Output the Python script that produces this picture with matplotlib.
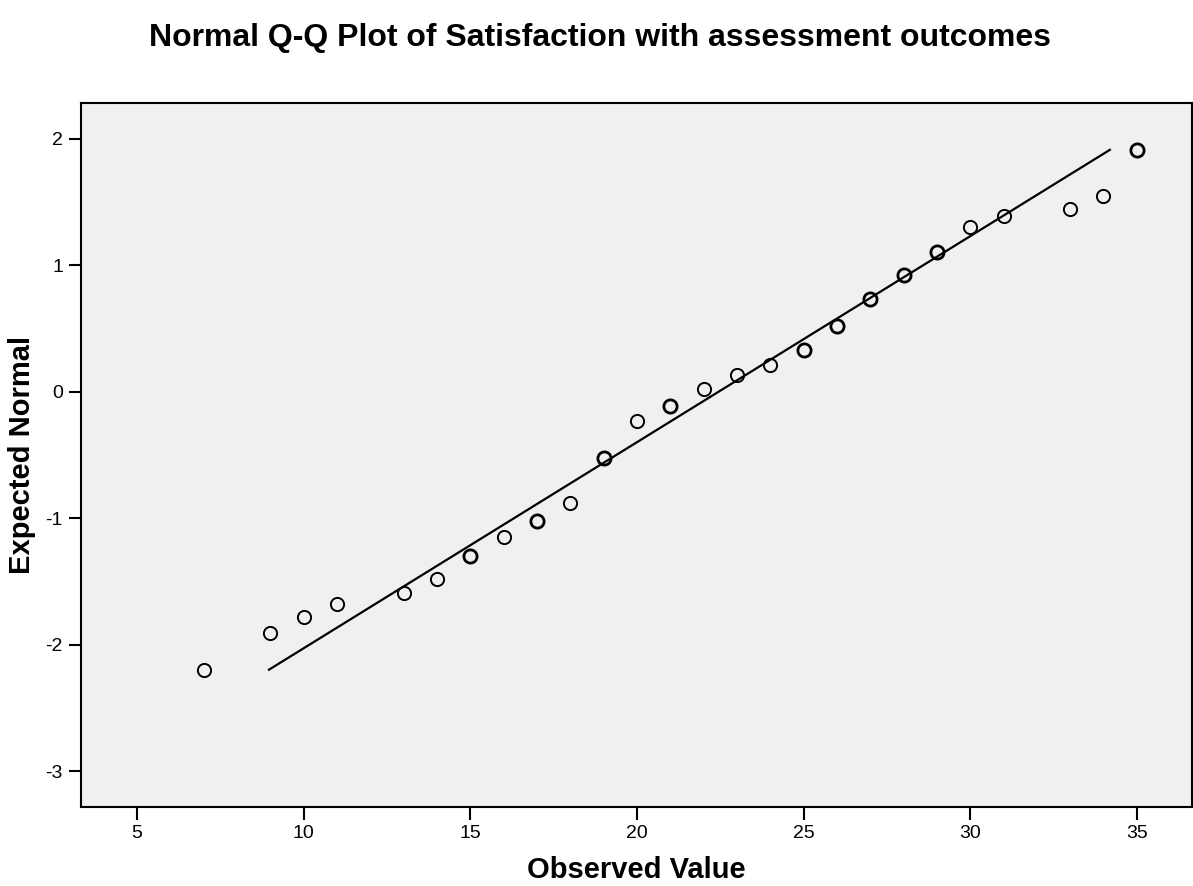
import numpy as np
import matplotlib
matplotlib.use('Agg')
import matplotlib.pyplot as plt

plt.rcParams['font.family'] = ['Liberation Sans', 'DejaVu Sans']
plt.rcParams['axes.unicode_minus'] = False

# observed values and their expected normal scores
observed = [7, 9, 10, 11, 13, 14, 15, 16, 17, 18, 19, 20, 21, 22, 23, 24, 25,
            26, 27, 28, 29, 30, 31, 33, 34, 35]
expected = [-2.20, -1.91, -1.78, -1.68, -1.59, -1.48, -1.30, -1.15, -1.02, -0.88,
            -0.52, -0.23, -0.115, 0.025, 0.13, 0.215, 0.333, 0.523, 0.73, 0.92,
            1.104, 1.30, 1.386, 1.447, 1.55, 1.913]
# tied values (drawn heavier, as overlapping markers)
ties = [1, 1, 1, 1, 1, 1, 2, 1, 2, 1, 2, 1, 2, 1, 1, 1, 2,
        2, 2, 2, 2, 1, 1, 1, 1, 2]

# reference line: expected = (x - mean) / sd
line_mean = 22.45
line_sd = 6.14
line_range = [8.96, 34.19]

fig = plt.figure(figsize=(11.93, 8.86), dpi=100)
ax = fig.add_axes([0.0679, 0.0895, 0.9311, 0.7939])
ax.set_facecolor('#f0f0f0')

lx = np.array(line_range)
ax.plot(lx, (lx - line_mean) / line_sd, color='black', lw=1.6, zorder=2)

for x, y, t in zip(observed, expected, ties):
    ax.plot(x, y, 'o', ms=9.5, mfc='none', mec='black',
            mew=1.4 if t == 1 else 2.0, zorder=3)

ax.set_xlim(3.32, 36.65)
ax.set_ylim(-3.28, 2.28)
ax.set_xticks([5, 10, 15, 20, 25, 30, 35])
ax.set_yticks([-3, -2, -1, 0, 1, 2])
ax.tick_params(direction='out', length=9, width=1.5, labelsize=14, pad=4)
for s in ax.spines.values():
    s.set_linewidth(1.5)

ax.set_xlabel('Observed Value', fontsize=21, fontweight='bold', labelpad=10)
ax.set_ylabel('Expected Normal', fontsize=21, fontweight='bold', labelpad=7)
fig.text(0.503, 1 - 46 / 886, 'Normal Q-Q Plot of Satisfaction with assessment outcomes',
         fontsize=23, fontweight='bold', ha='center', va='baseline')

fig.savefig('out.png', dpi=100)
